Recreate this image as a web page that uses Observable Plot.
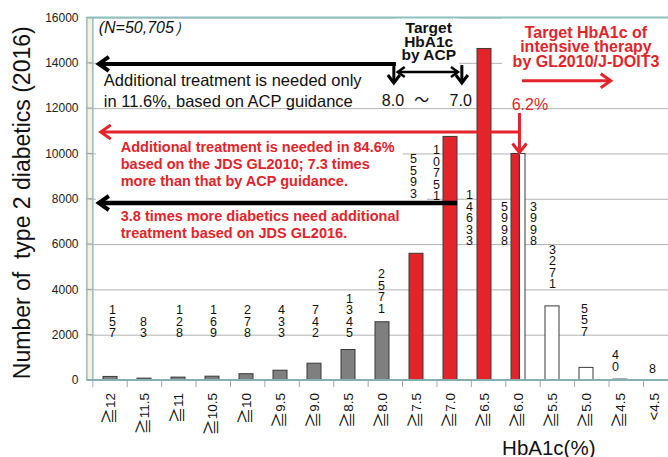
<!DOCTYPE html>
<html><head><meta charset="utf-8">
<script src="https://cdn.jsdelivr.net/npm/d3@7"></script>
<script src="https://cdn.jsdelivr.net/npm/@observablehq/plot@0.6"></script>
<style>body{margin:0;background:#fff}#chart svg{display:block}</style>
</head><body><div id="chart"></div>
<script>
// ---- data ----
const categories = ["≧12","≧11.5","≧11","≧10.5","≧10","≧9.5","≧9.0","≧8.5","≧8.0","≧7.5","≧7.0","≧6.5","≧6.0","≧5.5","≧5.0","≧4.5","<4.5"];
const counts = [157, 83, 128, 169, 278, 433, 742, 1345, 2571, 5593, 10751, 14633, 9996, 3271, 557, 40, 8];
const barGroup = ["above","above","above","above","above","above","above","above","above","target","target","target","split","below","below","below","below"];
const splitCategory = "≧6.0";
const splitRed = 5998;   // HbA1c >= 6.2
const splitWhite = 3998; // HbA1c 6.0-6.1
const yTicks = [0, 2000, 4000, 6000, 8000, 10000, 12000, 14000, 16000];

// ---- layout / style ----
const W = 668, H = 457;
const xRange = [89, 674];
const padIn = 0.59;
const step = (xRange[1] - xRange[0]) / categories.length;
const bw = step * (1 - padIn);
const redW = bw * splitRed / (splitRed + splitWhite);
const RED = "#e3242b", GRAY = "#7f7f7f", EDGE = "#3a3a3a", TEAL = "#8fc0c0";
const FONT = "'Liberation Sans', Arial, Helvetica, sans-serif";
const CJK = "'Noto Sans CJK JP', 'DejaVu Sans', sans-serif";
const groupFill = {above: GRAY, target: RED, below: "#ffffff"};

const bars = categories.map((c, i) => ({cat: c, count: counts[i], group: barGroup[i]}));
const splitBar = bars.find(d => d.cat === splitCategory);

const labelItems = [];
categories.forEach((c, i) => {
  if (c === splitCategory) { labelItems.push({cat: c, value: splitRed}, {cat: c, value: splitWhite}); }
  else labelItems.push({cat: c, value: counts[i]});
});
// label placement (bottom of stacked digits, in y units) and horizontal nudge (px)
const labelBottom = [1898,1898,1898,1898,1898,1898,1898,1898,3001,8077,7945,5959,5959,5959,4061,1986,441,353];
const labelDx = [2,-1,1,1,1,1,1,1,-1,-3,-14,-15,-14,15,0,-2,-5,-2];

function chevron(g, tx, ty, dx, dy, len, spread, color, width) {
  const px = -dy, py = dx;
  const p1 = [tx - dx*len + px*spread, ty - dy*len + py*spread];
  const p2 = [tx - dx*len - px*spread, ty - dy*len - py*spread];
  g.append("path").attr("d", `M${p1}L${tx},${ty}L${p2}`).attr("fill","none")
    .attr("stroke", color).attr("stroke-width", width).attr("stroke-linejoin","miter").attr("stroke-linecap","butt");
}
function line(g, x1, y1, x2, y2, color, width) {
  g.append("line").attr("x1",x1).attr("y1",y1).attr("x2",x2).attr("y2",y2)
    .attr("stroke",color).attr("stroke-width",width);
}
function txt(g, x, y, s, o = {}) {
  g.append("text").attr("x", x).attr("y", y).attr("dy", "0.35em")
    .attr("text-anchor", o.anchor || "start")
    .attr("font-size", o.size || 16)
    .attr("font-weight", o.weight || "normal")
    .attr("font-style", o.style || "normal")
    .attr("font-family", o.family || FONT)
    .attr("fill", o.fill || "#111").text(s);
}

function background(index, scales) {
  const X = scales.x, Y = scales.y;
  const left = X(categories[0]) - step * padIn / 2;
  const g = d3.create("svg:g");
  g.append("rect").attr("x", left - 6).attr("y", Y(16000)).attr("width", 6).attr("height", Y(0) - Y(16000)).attr("fill", "#f6efe2");
  for (const t of yTicks) line(g, left - 7, Y(t), left, Y(t), "#999", 1);
  return g.node();
}

function boxes(index, scales) {
  const X = scales.x, Y = scales.y;
  const left = X(categories[0]) - step * padIn / 2;
  const xAt = u => left + u * step;
  const g = d3.create("svg:g");
  const rect = (u1, u2, y1, y2) => g.append("rect").attr("x", xAt(u1)).attr("y", Y(y1)).attr("width", xAt(u2) - xAt(u1)).attr("height", Y(y2) - Y(y1)).attr("fill", "#fff");
  rect(0.087, 9.01, 10725, 8386);
  rect(0.087, 9.71, 8298, 6179);
  rect(8.8, 10.64, 15978, 13859);
  rect(11.89, 17, 15978, 13683);
  return g.node();
}

function foreground(index, scales) {
  const X = scales.x, Y = scales.y;
  const left = X(categories[0]) - step * padIn / 2;
  const xAt = u => left + u * step;
  const g = d3.create("svg:g");
  // frame lines
  line(g, left - 6, Y(16000), W, Y(16000), TEAL, 2);
  line(g, left - 6, Y(16000), left - 6, Y(0), TEAL, 1.5);
  line(g, left, Y(16000), left, Y(0), TEAL, 1.5);
  line(g, left - 6, Y(0), W, Y(0), "#86b0b0", 2);
  for (let i = 0; i <= categories.length; i++) line(g, xAt(i), Y(0), xAt(i), Y(0) + 7, "#9ab", 1);

  // x labels
  categories.forEach((c, i) => {
    const cx = X(c) + bw / 2;
    const t = g.append("text").attr("transform", `translate(${cx},${Y(0) + 13}) rotate(-90)`)
      .attr("text-anchor", "end").attr("dy", "0.36em").attr("font-size", 13.5).attr("font-family", FONT).attr("fill", "#111");
    t.append("tspan").attr("font-family", c[0] === "<" ? FONT : CJK).attr("font-size", c[0] === "<" ? 15 : 16).text(c[0]);
    t.append("tspan").text(c.slice(1));
  });
  // axis titles
  txt(g, xAt(13.25), Y(-3000), "HbA1c(%)", {anchor: "middle", size: 20.5});
  g.append("text").attr("transform", `translate(22,${(Y(0) + Y(16000)) / 2 + 4}) rotate(-90)`)
    .attr("text-anchor", "middle").attr("dy", "0.35em").attr("font-size", 23).attr("font-family", FONT).attr("fill", "#111")
    .text("Number of\u00a0 type 2 diabetics (2016)");

  // N
  txt(g, xAt(0.17), Y(15581), "(N=50,705）", {size: 16, style: "italic"});

  // ACP arrows (black)
  const yA = Y(13950), yDown = Y(13109), yDbl = Y(13595);
  line(g, xAt(0.174) + 1, yA, xAt(8.747) + 2, yA, "#000", 4);
  chevron(g, xAt(0.174), yA, -1, 0, 10, 7, "#000", 4);
  line(g, xAt(8.747), yA, xAt(8.747), yDown, "#000", 3);
  chevron(g, xAt(8.747), yDown, 0, 1, 8, 6, "#000", 3);
  line(g, xAt(10.723), yA + 1, xAt(10.723), yDown, "#000", 3);
  chevron(g, xAt(10.723), yDown, 0, 1, 8, 6, "#000", 3);
  line(g, xAt(8.86), yDbl, xAt(10.61), yDbl, "#000", 2.5);
  chevron(g, xAt(8.86), yDbl, -1, 0, 7, 5, "#000", 2.5);
  chevron(g, xAt(10.61), yDbl, 1, 0, 7, 5, "#000", 2.5);

  txt(g, xAt(0.32), Y(13242), "Additional treatment is needed only", {size: 16.5});
  txt(g, xAt(0.32), Y(12315), "in 11.6%, based on ACP guidance", {size: 16.5});
  txt(g, xAt(8.72), Y(12359), "8.0", {anchor: "middle", size: 16});
  txt(g, xAt(9.56), Y(12359), "～", {anchor: "middle", size: 15, family: CJK});
  txt(g, xAt(10.69), Y(12359), "7.0", {anchor: "middle", size: 16});
  ["Target", "HbA1c", "by ACP"].forEach((s, k) =>
    txt(g, xAt(9.76), Y(15537) + k * 13.5, s, {anchor: "middle", size: 15.5, weight: "bold"}));

  // red annotations
  ["Target HbA1c of", "intensive therapy", "by GL2010/J-DOIT3"].forEach((s, k) =>
    txt(g, xAt(14.33), Y(15360) + k * 14.5, s, {anchor: "middle", size: 16, weight: "bold", fill: RED}));
  const yR = Y(13211);
  line(g, xAt(12.47), yR, xAt(15.05) - 1, yR, RED, 3);
  chevron(g, xAt(15.05), yR, 1, 0, 10, 7, RED, 3);
  txt(g, xAt(12.7), Y(12182), "6.2%", {anchor: "middle", size: 16, fill: RED});

  const xs = X(splitCategory) + redW;
  const yH = Y(10946);
  line(g, xs, Y(11785), xs, Y(splitBar.count) - 2, RED, 3);
  chevron(g, xs, Y(splitBar.count) - 1, 0, 1, 9, 7, RED, 3);
  line(g, xAt(0.23) + 1, yH, xs + 1.5, yH, RED, 3);
  chevron(g, xAt(0.23), yH, -1, 0, 10, 7, RED, 3);
  ["Additional treatment is needed in 84.6%", "based on the JDS GL2010; 7.3 times", "more than that by ACP guidance."].forEach((s, k) =>
    txt(g, xAt(0.81), Y(10284) + k * 17, s, {size: 14.5, weight: "bold", fill: RED}));

  const yB = Y(7812);
  line(g, xAt(0.174) + 1, yB, X(categories[10]) + bw, yB, "#000", 4.5);
  chevron(g, xAt(0.174), yB, -1, 0, 10, 7, "#000", 4);
  ["3.8 times more diabetics need additional", "treatment based on JDS GL2016."].forEach((s, k) =>
    txt(g, xAt(0.81), Y(7239) + k * 17, s, {size: 14.5, weight: "bold", fill: RED}));
  return g.node();
}

const chart = Plot.plot({
  width: W, height: H,
  marginLeft: 89, marginRight: 0, marginTop: 17.5, marginBottom: 77,
  x: {domain: categories, range: xRange, paddingInner: padIn, paddingOuter: padIn / 2, axis: null},
  y: {domain: [0, 16000], axis: null},
  color: {type: "identity"},
  style: {fontFamily: FONT, background: "#fff"},
  marks: [
    background,
    Plot.gridY(yTicks, {stroke: "#b3b3b3", strokeOpacity: 1, strokeWidth: 1}),
    Plot.axisY(yTicks, {tickSize: 0, tickPadding: 11, tickFormat: d => String(d), fontSize: 12, fill: "#222", label: null}),
    boxes,
    Plot.barY(bars.filter(d => d.group !== "split"), {x: "cat", y: "count", fill: d => groupFill[d.group], stroke: EDGE, strokeWidth: 1}),
    Plot.barY([splitBar], {x: "cat", y: "count", fill: RED, stroke: EDGE, strokeWidth: 1, insetRight: bw - redW}),
    Plot.barY([splitBar], {x: "cat", y: "count", fill: "#ffffff", stroke: EDGE, strokeWidth: 1, insetLeft: redW}),
    ...labelItems.map((d, k) => Plot.text([d], {
      x: "cat", y: () => labelBottom[k], text: e => String(e.value).split("").join("\n"),
      dx: labelDx[k], lineAnchor: "bottom", lineHeight: 0.92, fontSize: 12.5, fill: "#111"
    })),
    foreground
  ]
});
document.getElementById("chart").appendChild(chart);
</script>
</body></html>
